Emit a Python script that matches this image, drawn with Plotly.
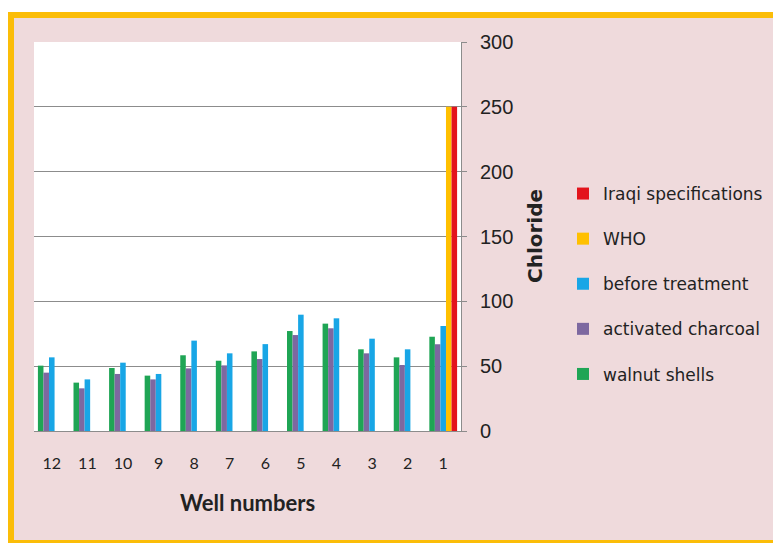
import plotly.graph_objects as go

# page body has an 8px margin; figure is sized so that it fills the window
OFF = 8
W, H = 781 - OFF, 543 - OFF

wells = ["12", "11", "10", "9", "8", "7", "6", "5", "4", "3", "2", "1"]
walnut_shells = [50.4, 37.3, 48.6, 42.7, 58.4, 54.2, 61.4, 77.1, 82.8, 63.0, 56.8, 72.7]
activated_charcoal = [45.0, 32.9, 44.0, 39.8, 48.3, 50.6, 55.5, 74.0, 79.2, 59.9, 50.9, 66.9]
before_treatment = [56.8, 39.8, 52.7, 44.0, 69.7, 59.9, 67.0, 89.7, 86.9, 71.2, 63.0, 81.0]
who = [None, None, None, None, None, None, None, None, None, None, None, 250]
iraqi_specs = [None, None, None, None, None, None, None, None, None, None, None, 250]

y_ticks = [0, 50, 100, 150, 200, 250, 300]

series = [
    ("walnut shells", walnut_shells, "#1FA555", 5),
    ("activated charcoal", activated_charcoal, "#7D68A0", 4),
    ("before treatment", before_treatment, "#18A6E6", 3),
    ("WHO", who, "#FFC000", 2),
    ("Iraqi specifications", iraqi_specs, "#E3141C", 1),
]

PINK = "#EFDADC"
ORANGE = "#FBBD08"


def X(px):
    return (px - OFF) / W


def Y(py):
    return 1 - (py - OFF) / H


def rect(x0, y0, x1, y1, color):
    return dict(type="rect", xref="paper", yref="paper", layer="below",
                x0=X(x0), x1=X(x1), y0=Y(y1), y1=Y(y0),
                fillcolor=color, line_width=0)


fig = go.Figure()
for name, vals, col, rank in series:
    fig.add_trace(go.Bar(
        x=wells, y=vals, name=name, marker_color=col,
        marker_line_width=0, legendgroup=name, legendrank=rank,
    ))

fig.update_layout(
    width=W, height=H,
    margin=dict(l=0, r=0, t=0, b=0),
    paper_bgcolor=PINK,
    plot_bgcolor="rgba(0,0,0,0)",
    barmode="group",
    bargap=0.22,
    bargroupgap=0,
    showlegend=True,
    legend=dict(
        x=X(563), y=Y(176), xanchor="left", yanchor="top",
        traceorder="grouped",
        tracegroupgap=20,
        font=dict(family="DejaVu Sans", size=17, color="#222"),
        bgcolor="rgba(0,0,0,0)",
    ),
    xaxis=dict(
        domain=[X(34), X(461)],
        type="category",
        categoryorder="array", categoryarray=wells,
        showline=True, linecolor="#8C8C8C", linewidth=1,
        ticks="", showgrid=False, zeroline=False,
        tickfont=dict(family="Lato", size=16, color="#222"),
        ticklabelstandoff=18,
        automargin=False,
    ),
    yaxis=dict(
        domain=[Y(431), Y(42)],
        side="right",
        range=[0, 300],
        tickvals=y_ticks,
        showline=True, linecolor="#8C8C8C", linewidth=1,
        ticks="outside", ticklen=5, tickcolor="#8C8C8C",
        showgrid=True, gridcolor="#8C8C8C", gridwidth=1,
        zeroline=False,
        tickfont=dict(family="Liberation Sans", size=20, color="#222"),
        ticklabelstandoff=9,
        automargin=False,
    ),
    shapes=[
        rect(8, 8, 781, 12, "white"),        # white strip above the frame
        rect(8, 12, 781, 18, ORANGE),        # top band
        rect(8, 12, 14, 543, ORANGE),        # left band
        rect(8, 540, 781, 543, ORANGE),      # bottom band
        rect(34, 42, 461, 431, "white"),     # plot area
    ],
    annotations=[
        dict(text="<b>Well numbers</b>", xref="paper", yref="paper",
             x=X(248), y=Y(502), xanchor="center", yanchor="middle",
             showarrow=False,
             font=dict(family="Lato", size=22, color="#222")),
        dict(text="<b>Chloride</b>", xref="paper", yref="paper",
             x=X(535), y=Y(236), xanchor="center", yanchor="middle",
             showarrow=False, textangle=-90,
             font=dict(family="DejaVu Sans", size=20, color="#222")),
    ],
)

fig.write_html("out.html")
